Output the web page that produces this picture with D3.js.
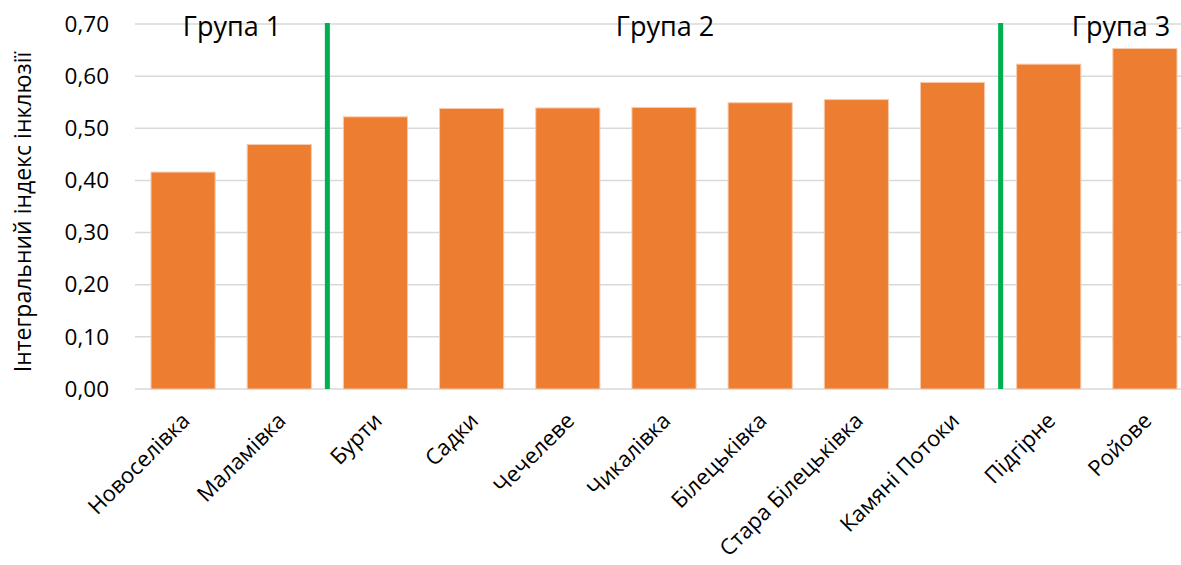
<!DOCTYPE html>
<html>
<head>
<meta charset="utf-8">
<script src="https://cdn.jsdelivr.net/npm/d3@7"></script>
<style>
  body { margin: 0; background: #fff; }
  svg { display: block; font-family: "Open Sans", "Noto Sans", sans-serif; }
</style>
</head>
<body>
<svg id="chart"></svg>
<script>
const categories = ["Новоселівка", "Маламівка", "Бурти", "Садки", "Чечелеве", "Чикалівка",
    "Білецьківка", "Стара Білецьківка", "Камяні Потоки", "Підгірне", "Ройове"];
const values = [0.416, 0.469, 0.522, 0.538, 0.539, 0.540, 0.549, 0.555, 0.588, 0.623, 0.653];
const yTicks = [0, 0.1, 0.2, 0.3, 0.4, 0.5, 0.6, 0.7];
const groupNames = ["Група 1", "Група 2", "Група 3"];
const dividers = [2, 9];

const W = 1181, H = 565;
const margin = { top: 24, right: -12, bottom: 176, left: 135 };

const svg = d3.select("#chart").attr("width", W).attr("height", H);

const x = d3.scaleBand()
    .domain(categories)
    .range([margin.left, W - margin.right])
    .paddingInner(0.333)
    .paddingOuter(0.1665);

const y = d3.scaleLinear()
    .domain([0, 0.7])
    .range([H - margin.bottom, margin.top]);

const fmt = d => d3.format(".2f")(d).replace(".", ",");

// gridlines
svg.append("g")
    .selectAll("line")
    .data(yTicks)
    .enter().append("line")
    .attr("x1", margin.left)
    .attr("x2", W - margin.right)
    .attr("y1", d => y(d))
    .attr("y2", d => y(d))
    .attr("stroke", "#d9d9d9")
    .attr("stroke-width", 1.5);

// y axis labels
const yAxis = svg.append("g")
    .attr("transform", `translate(${margin.left},0)`)
    .call(d3.axisLeft(y).tickValues(yTicks).tickFormat(fmt).tickSize(0).tickPadding(26));
yAxis.select(".domain").remove();
yAxis.selectAll("text")
    .style("font-size", "22.5px")
    .style("font-family", "'Open Sans', sans-serif")
    .attr("fill", "#000");

// bars
svg.append("g")
    .selectAll("rect")
    .data(values)
    .enter().append("rect")
    .attr("x", (d, i) => x(categories[i]))
    .attr("y", d => y(d))
    .attr("width", x.bandwidth())
    .attr("height", d => y(0) - y(d))
    .attr("fill", "#ed7d31")
    .attr("stroke", "#f8cbad")
    .attr("stroke-width", 1);

// group dividers
const step = x.step();
const x0 = x.range()[0];
svg.append("g")
    .selectAll("line")
    .data(dividers)
    .enter().append("line")
    .attr("x1", d => x0 + d * step)
    .attr("x2", d => x0 + d * step)
    .attr("y1", y(0.7) - 1)
    .attr("y2", y(0))
    .attr("stroke", "#00b050")
    .attr("stroke-width", 5);

// group labels
const groupCenters = [232, 665, 1121];
svg.append("g")
    .selectAll("text")
    .data(groupNames)
    .enter().append("text")
    .attr("x", (d, i) => groupCenters[i])
    .attr("y", 36)
    .attr("text-anchor", "middle")
    .style("font-size", "27px")
    .text(d => d);

// x labels
svg.append("g")
    .selectAll("text")
    .data(categories)
    .enter().append("text")
    .attr("transform", d => `translate(${x(d) + x.bandwidth() / 2 + 8},${y(0) + 33}) rotate(-45)`)
    .attr("text-anchor", "end")
    .style("font-size", "22px")
    .text(d => d);

// y title
svg.append("text")
    .attr("transform", `translate(31,212) rotate(-90)`)
    .attr("text-anchor", "middle")
    .style("font-size", "23px")
    .text("Інтегральний індекс інклюзії");
</script>
</body>
</html>
